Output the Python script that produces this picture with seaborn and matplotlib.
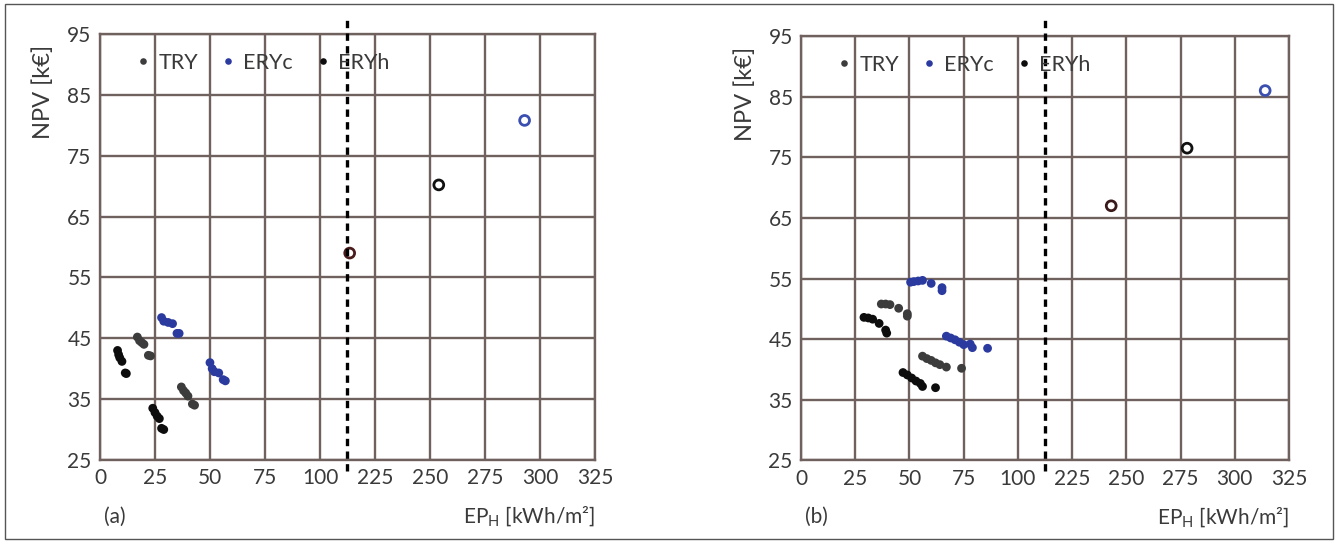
import numpy as np
import pandas as pd
import matplotlib
matplotlib.use("Agg")
import matplotlib.pyplot as plt
import seaborn as sns
from matplotlib.patches import Rectangle

# ==========================================================
# DATA
# ==========================================================

series_order = ["TRY", "ERYc", "ERYh"]
series_colors = {"TRY": "#3c3c3c", "ERYc": "#2b3a9e", "ERYh": "#0d0d0d"}

# panel (a)
a_try_x = [17, 18, 19, 20, 22, 23, 37, 38, 39, 40, 42, 43]
a_try_y = [45.2, 44.6, 44.3, 44.0, 42.2, 42.1, 37.0, 36.4, 36.0, 35.5, 34.2, 34.0]
a_eryc_x = [28, 29, 31, 33, 35, 36, 50, 51, 52, 54, 56, 57]
a_eryc_y = [48.4, 47.8, 47.6, 47.4, 45.8, 45.8, 41.0, 40.0, 39.5, 39.3, 38.2, 38.0]
a_eryh_x = [8, 8.5, 9, 10, 11.5, 12, 24, 25, 26, 27, 28, 29]
a_eryh_y = [43.0, 42.3, 41.8, 41.2, 39.3, 39.2, 33.5, 32.8, 32.2, 31.8, 30.2, 30.0]
a_ref_x = [213.5, 254, 293]
a_ref_y = [59.0, 70.2, 80.8]
a_ref_colors = ["#4a1c1c", "#111111", "#3a4fb0"]

# panel (b)
b_try_x = [37, 39, 41, 45, 49, 49, 56, 58, 60, 62, 64, 67, 74]
b_try_y = [50.8, 50.8, 50.7, 50.1, 49.2, 48.8, 42.2, 41.8, 41.5, 41.1, 40.8, 40.4, 40.2]
b_eryc_x = [50.5, 52, 54, 56, 60, 65, 65, 67, 69, 71, 73, 75, 78, 79, 86]
b_eryc_y = [54.4, 54.5, 54.6, 54.7, 54.2, 53.5, 53.0, 45.5, 45.2, 44.9, 44.5, 44.1, 44.2, 43.6, 43.5]
b_eryh_x = [29, 31, 33, 36, 39, 39.5, 47, 49, 51, 53, 55, 56, 62]
b_eryh_y = [48.6, 48.5, 48.3, 47.6, 46.5, 46.0, 39.5, 39.1, 38.6, 38.1, 37.7, 37.2, 37.0]
b_ref_x = [243, 278, 314]
b_ref_y = [67.0, 76.5, 86.0]
b_ref_colors = ["#3a1a1a", "#111111", "#3a4fb0"]

x_tick_values = [0, 25, 50, 75, 100, 225, 250, 275, 300, 325]
y_tick_values = [25, 35, 45, 55, 65, 75, 85, 95]

# broken x axis: 0..112.5 kept, 212.5.. shifted left by 100
BREAK = 112.5
SHIFT = 100


def to_pos(x):
    x = np.asarray(x, dtype=float)
    return np.where(x > BREAK, x - SHIFT, x)


def make_df(try_x, try_y, eryc_x, eryc_y, eryh_x, eryh_y):
    parts = []
    for name, xs, ys in [("TRY", try_x, try_y), ("ERYc", eryc_x, eryc_y), ("ERYh", eryh_x, eryh_y)]:
        parts.append(pd.DataFrame({"EP": xs, "NPV": ys, "series": name}))
    df = pd.concat(parts, ignore_index=True)
    df["pos"] = to_pos(df["EP"])
    return df


# ==========================================================
# STYLE
# ==========================================================

sns.set_theme(style="white")
plt.rcParams["font.family"] = ["Lato", "DejaVu Sans"]
grid_color = "#6f625e"
text_color = "#3a3a3a"

fig = plt.figure(figsize=(13.38, 5.43), dpi=100)
fig.patches.append(Rectangle((0.004, 0.008), 0.992, 0.984, transform=fig.transFigure,
                             fill=False, edgecolor="#555555", linewidth=1.0))

panels = [
    ([0.0747, 0.1529, 0.3700, 0.7845], "(a)",
     make_df(a_try_x, a_try_y, a_eryc_x, a_eryc_y, a_eryh_x, a_eryh_y),
     a_ref_x, a_ref_y, a_ref_colors),
    ([0.5987, 0.1520, 0.3647, 0.7817], "(b)",
     make_df(b_try_x, b_try_y, b_eryc_x, b_eryc_y, b_eryh_x, b_eryh_y),
     b_ref_x, b_ref_y, b_ref_colors),
]

for rect, tag, df, ref_x, ref_y, ref_colors in panels:
    ax = fig.add_axes(rect)

    sns.scatterplot(data=df, x="pos", y="NPV", hue="series", hue_order=series_order,
                    palette=series_colors, s=40, linewidth=0, ax=ax, zorder=4)

    ax.scatter(to_pos(ref_x), ref_y, s=50, facecolors="none", edgecolors=ref_colors,
               linewidths=2.0, zorder=4)

    ax.axvline(BREAK, ymin=-0.025, ymax=1.04, color="black", linestyle=(0, (2.2, 1.6)),
               linewidth=2.4, clip_on=False, zorder=5)

    ax.set_xlim(0, 225)
    ax.set_ylim(25, 95)
    ax.set_xticks(to_pos(x_tick_values))
    ax.set_xticklabels([str(v) for v in x_tick_values])
    ax.set_yticks(y_tick_values)
    ax.grid(True, color=grid_color, linewidth=1.7)
    ax.set_axisbelow(True)
    for sp in ax.spines.values():
        sp.set_color(grid_color)
        sp.set_linewidth(1.7)
    ax.tick_params(length=0, labelsize=15, colors=text_color, pad=6)

    ax.set_ylabel("NPV [k€]", loc="top", fontsize=17, color=text_color)
    ax.yaxis.set_label_coords(-0.092, 0.975)
    ax.set_xlabel(r"EP$_\mathregular{H}$ [kWh/m²]", loc="right", fontsize=15,
                  color=text_color, labelpad=12)

    handles, labels = ax.get_legend_handles_labels()
    ax.legend(handles, labels, ncol=3, loc="center left", bbox_to_anchor=(0.027, 0.932),
              frameon=False, fontsize=15.5, markerscale=0.75, handletextpad=0.2,
              columnspacing=0.9, labelcolor=text_color, handlelength=1.0)

    fig.text(rect[0] + 0.003, 0.038, tag, fontsize=15, color=text_color)

fig.savefig("out.png", dpi=100)
